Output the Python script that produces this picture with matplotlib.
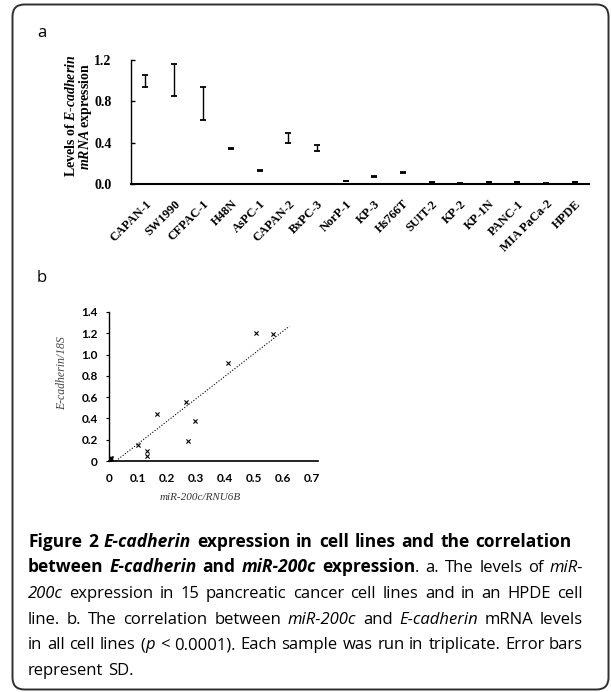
import re
import matplotlib
matplotlib.use("Agg")
import matplotlib.pyplot as plt
import numpy as np
from matplotlib.patches import FancyBboxPatch
from matplotlib.transforms import IdentityTransform

# ---------------- data ----------------
cell_lines = ["CAPAN-1", "SW1990", "CFPAC-1", "H48N", "AsPC-1", "CAPAN-2", "BxPC-3",
              "NorP-1", "KP-3", "Hs766T", "SUIT-2", "KP-2", "KP-1N", "PANC-1",
              "MIA PaCa-2", "HPDE"]
ecad_mean = [1.00, 1.005, 0.775, 0.34, 0.135, 0.445, 0.35, 0.03, 0.077, 0.11,
             0.016, 0.005, 0.02, 0.02, 0.005, 0.02]
ecad_sd = [0.058, 0.155, 0.16, 0.005, 0.005, 0.045, 0.028, 0.003, 0.005, 0.006,
           0.003, 0.002, 0.004, 0.003, 0.002, 0.004]
a_yticks = [0.0, 0.4, 0.8, 1.2]
a_yticklabels = ["0.0", "0.4", "0.8", "1.2"]

mir200c = [0.505, 0.565, 0.41, 0.265, 0.164, 0.296, 0.273, 0.10, 0.13, 0.13,
           0.0, 0.003, 0.006, 0.002, 0.008, 0.004]
ecad_18s = [1.20, 1.19, 0.92, 0.55, 0.44, 0.38, 0.19, 0.15, 0.09, 0.05,
            0.02, 0.01, 0.03, 0.0, 0.015, 0.025]
b_yticks = [0, 0.2, 0.4, 0.6, 0.8, 1.0, 1.2, 1.4]
b_yticklabels = ["0", "0.2", "0.4", "0.6", "0.8", "1.0", "1.2", "1.4"]
b_xticks = [0, 0.1, 0.2, 0.3, 0.4, 0.5, 0.6, 0.7]
b_xticklabels = ["0", "0.1", "0.2", "0.3", "0.4", "0.5", "0.6", "0.7"]

caption_lines = [
    [("Figure 2 ", "bold", "normal"), ("E-cadherin", "bold", "italic"),
     (" expression in cell lines and the correlation", "bold", "normal")],
    [("between ", "bold", "normal"), ("E-cadherin", "bold", "italic"),
     (" and ", "bold", "normal"), ("miR-200c", "bold", "italic"),
     (" expression", "bold", "normal"), (". a. The levels of ", "normal", "normal"),
     ("miR-", "normal", "italic")],
    [("200c", "normal", "italic"),
     (" expression in 15 pancreatic cancer cell lines and in an HPDE cell", "normal", "normal")],
    [("line. b. The correlation between ", "normal", "normal"), ("miR-200c", "normal", "italic"),
     (" and ", "normal", "normal"), ("E-cadherin", "normal", "italic"),
     (" mRNA levels", "normal", "normal")],
    [("in all cell lines (", "normal", "normal"), ("p", "normal", "italic"),
     (" < 0.0001). Each sample was run in triplicate. Error bars", "normal", "normal")],
    [("represent SD.", "normal", "normal")],
]

# ---------------- figure ----------------
W, H = 611, 692
fig = plt.figure(figsize=(W / 100, H / 100), dpi=100)
fig.patch.set_facecolor("white")

plt.rcParams["mathtext.fontset"] = "custom"
plt.rcParams["mathtext.rm"] = "Liberation Serif:bold"
plt.rcParams["mathtext.it"] = "Liberation Serif:italic:bold"

# rounded frame
frame = FancyBboxPatch((12.5, 2.5), 596, 685,
                       boxstyle="round,pad=0,rounding_size=12",
                       transform=IdentityTransform(), fill=False,
                       ec="#2e2e2e", lw=1.4)
fig.add_artist(frame)

serif = "Liberation Serif"

# ---------------- panel a ----------------
axa = fig.add_axes([131 / W, 1 - 184 / H, (589 - 131) / W, (184 - 60) / H])
x = np.arange(len(cell_lines))
axa.errorbar(x, ecad_mean, yerr=ecad_sd, fmt="none", ecolor="black",
             elinewidth=1.0, capsize=2.4, capthick=1.3)
axa.set_xlim(-0.5, len(cell_lines) - 0.5)
axa.set_ylim(0, 1.2)
axa.set_yticks(a_yticks)
axa.set_yticklabels(a_yticklabels, fontfamily=serif, fontweight="bold", fontsize=10)
axa.set_xticks(x)
axa.set_xticklabels(cell_lines, rotation=45, ha="right", rotation_mode="anchor",
                    fontfamily=serif, fontweight="bold", fontsize=9)
axa.tick_params(axis="x", length=0, pad=10)
axa.tick_params(axis="y", direction="in", length=3, width=1, pad=14)
for s in ["top", "right"]:
    axa.spines[s].set_visible(False)
axa.spines["left"].set_linewidth(1.0)
axa.spines["bottom"].set_linewidth(1.5)
fig.text(79 / W, 1 - 116 / H,
         "Levels of $\\mathit{E}$-$\\mathit{cadherin}$\n$\\mathit{mRNA}$ expression",
         rotation=90, ha="center", va="center", fontfamily=serif,
         fontweight="bold", fontsize=10, linespacing=0.9, multialignment="center")

fig.text(42 / W, 1 - 33 / H, "a", fontfamily="Open Sans", fontsize=12,
         ha="center", va="center")
fig.text(42 / W, 1 - 278 / H, "b", fontfamily="Open Sans", fontsize=12,
         ha="center", va="center")

# ---------------- panel b ----------------
axb = fig.add_axes([109 / W, 1 - 461 / H, (318 - 109) / W, (461 - 312) / H])
axb.scatter(mir200c, ecad_18s, marker="x", s=9, c="black", linewidths=0.8, zorder=3)
slope, intercept = np.polyfit(mir200c, ecad_18s, 1)
x0 = -intercept / slope
x1 = max(mir200c) * 1.1
xs = np.array([x0, x1])
axb.plot(xs, slope * xs + intercept, color="black", lw=0.8, ls=(0, (1, 1.6)))
axb.set_xlim(0, 0.72)
axb.set_ylim(0, 1.4)
axb.set_yticks(b_yticks)
axb.set_yticklabels(b_yticklabels, fontfamily="Lato", fontweight="bold", fontsize=8.5)
axb.set_xticks(b_xticks)
axb.set_xticklabels(b_xticklabels, fontfamily="Lato", fontweight="bold", fontsize=8.5)
axb.tick_params(axis="y", direction="out", length=2, width=0.8, pad=6)
axb.tick_params(axis="x", length=0, pad=9)
for s in ["top", "right"]:
    axb.spines[s].set_visible(False)
axb.spines["left"].set_linewidth(1.0)
axb.spines["bottom"].set_linewidth(1.2)
fig.text(62 / W, 1 - 373 / H, "E-cadherin/18S", rotation=90, ha="center", va="center",
         fontfamily=serif, fontstyle="italic", fontsize=8.5, color="#444444")
fig.text(200 / W, 1 - 498 / H, "miR-200c/RNU6B", ha="center", va="center",
         fontfamily=serif, fontstyle="italic", fontsize=8, color="#333333")

# ---------------- caption (justified) ----------------
renderer = fig.canvas.get_renderer()
cap_font = "Open Sans"
cap_sizes = {"bold": 12.5, "normal": 12.0}
baselines = [547, 572.5, 598, 623.5, 649, 675]
right_edges = [572, 583, 583, 583, 583, None]
left_x = 28.0


def text_width(s, weight, style):
    kw = dict(fontfamily=cap_font, fontsize=cap_sizes[weight], fontweight=weight,
              fontstyle=style)
    t1 = fig.text(0, 0, "|" + s + "|", **kw)
    t2 = fig.text(0, 0, "||", **kw)
    w = t1.get_window_extent(renderer).width - t2.get_window_extent(renderer).width
    t1.remove()
    t2.remove()
    return w


for segs, yb, right in zip(caption_lines, baselines, right_edges):
    tokens = []
    for s, weight, style in segs:
        for part in re.split(r"( )", s):
            if part == "":
                continue
            tokens.append((part, weight, style, text_width(part, weight, style)))
    natural = sum(t[3] for t in tokens)
    n_sp = sum(1 for t in tokens if t[0] == " ")
    extra = (right - left_x - natural) / n_sp if (right and n_sp) else 0.0
    xpos = left_x
    for part, weight, style, w in tokens:
        if part == " ":
            xpos += w + extra
            continue
        fig.text(xpos, H - yb, part, transform=IdentityTransform(), fontfamily=cap_font,
                 fontsize=cap_sizes[weight], fontweight=weight, fontstyle=style,
                 ha="left", va="baseline", color="black")
        xpos += w

fig.savefig("out.png", dpi=100, facecolor="white")
